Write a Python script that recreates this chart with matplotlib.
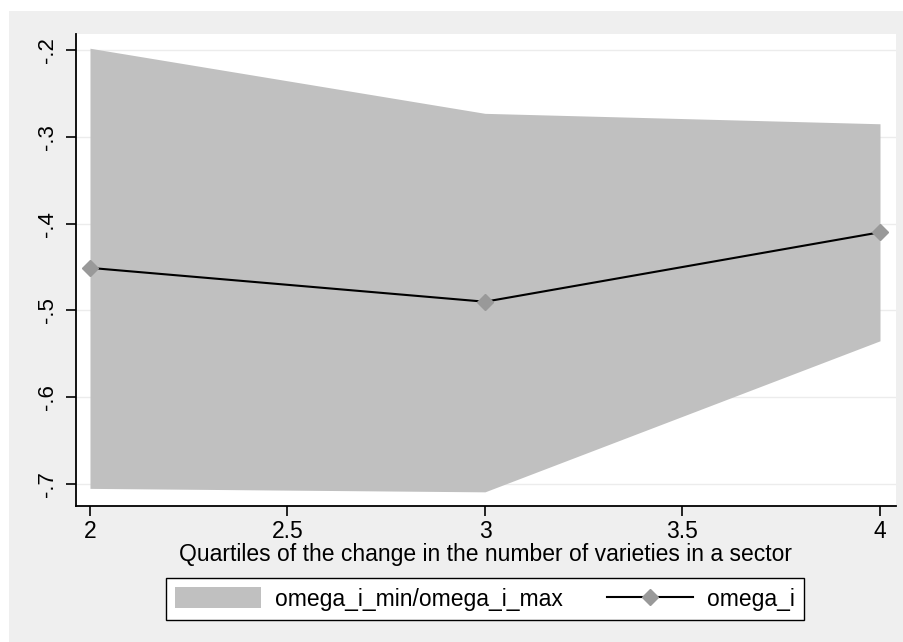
import matplotlib
matplotlib.use("Agg")
import matplotlib.pyplot as plt
from matplotlib.patches import Rectangle, Patch
from matplotlib.lines import Line2D

plt.rcParams['font.family'] = ['Liberation Sans', 'DejaVu Sans']

quartiles = [2, 3, 4]
omega_min = [-0.705, -0.709, -0.535]
omega_max = [-0.198, -0.273, -0.285]
omega_i = [-0.451, -0.490, -0.410]

yticks = [-0.2, -0.3, -0.4, -0.5, -0.6, -0.7]
ytick_labels = ['-.2', '-.3', '-.4', '-.5', '-.6', '-.7']
xticks = [2, 2.5, 3, 3.5, 4]
xtick_labels = ['2', '2.5', '3', '3.5', '4']

W, H = 904, 642
fig = plt.figure(figsize=(W / 100, H / 100), dpi=100, facecolor='white')
fig.patches.append(Rectangle((9 / W, 0), 1 - 9 / W, 1 - 11 / H, transform=fig.transFigure,
                             facecolor='#efefef', edgecolor='none', zorder=-10))

ax = fig.add_axes([76 / W, 1 - 506 / H, 820 / W, 472 / H])
ax.set_facecolor('white')
ax.fill_between(quartiles, omega_min, omega_max, color='#c0c0c0', linewidth=0, zorder=2)
ax.plot(quartiles, omega_i, color='black', linewidth=1.5, marker='D', markersize=8,
        markerfacecolor='#999999', markeredgecolor='#999999', zorder=3)

ax.set_xlim(1.9646, 4.0405)
ax.set_ylim(-0.7253, -0.1816)
ax.set_yticks(yticks)
ax.set_yticklabels(ytick_labels, rotation=90, va='center')
ax.set_xticks(xticks)
ax.set_xticklabels(xtick_labels)
for y in yticks:
    ax.axhline(y, color='#ececec', linewidth=1.0, zorder=1)

for s in ['top', 'right']:
    ax.spines[s].set_visible(False)
for s in ['left', 'bottom']:
    ax.spines[s].set_linewidth(1.3)
    ax.spines[s].set_color('black')
ax.tick_params(axis='both', direction='out', length=7, width=1.2, labelsize=16.5, pad=3)
ax.tick_params(axis='y', labelsize=16, pad=6)

ax.set_xlabel('Quartiles of the change in the number of varieties in a sector', fontsize=16.5, labelpad=0)

handles = [Patch(facecolor='#c0c0c0', edgecolor='none'),
           Line2D([], [], color='black', linewidth=1.5, marker='D', markersize=8,
                  markerfacecolor='#999999', markeredgecolor='#999999')]
leg = fig.legend(handles, ['omega_i_min/omega_i_max', 'omega_i'], loc='center',
                 bbox_to_anchor=(485 / W, 1 - 599 / H), ncol=2, fontsize=16.5,
                 frameon=True, fancybox=False, edgecolor='black', facecolor='white',
                 framealpha=1, handlelength=3.75, handleheight=1.0, handletextpad=0.6,
                 columnspacing=1.95, borderpad=0.4)
leg.get_frame().set_linewidth(1.0)

fig.savefig('out.png', dpi=100, facecolor=fig.get_facecolor())
